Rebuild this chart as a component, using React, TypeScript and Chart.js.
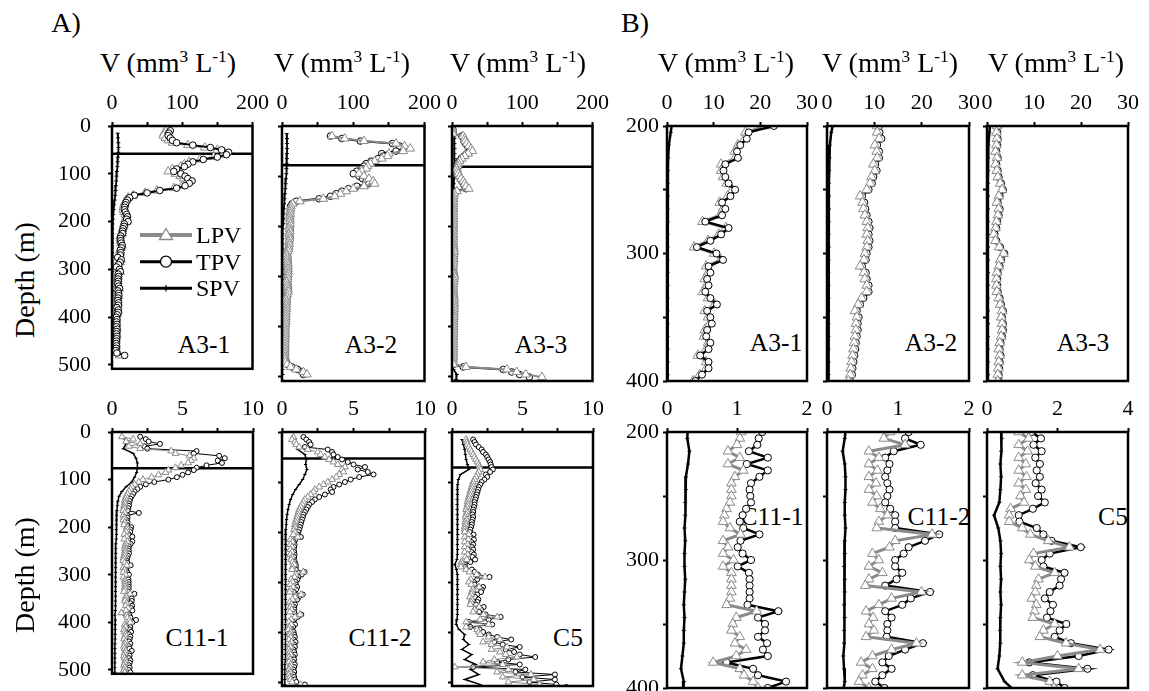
import React, { useEffect, useRef } from 'react';
import { Chart, registerables } from 'chart.js';

Chart.register(...registerables);

const FONT = "'Liberation Serif', 'Times New Roman', Times, serif";

// ---------------- DATA ----------------
// depth grid (m) used by LPV / TPV profiles
const DEPTHS = [5, 10, 15, 20, 25, 30, 35, 40, 45, 50, 55, 60, 65, 70, 75, 80, 85, 90, 95, 100,
  105, 110, 115, 120, 125, 130, 135, 140, 145, 150, 155, 160, 165, 170, 175, 180, 185, 190, 195, 200,
  205, 210, 215, 220, 225, 230, 235, 240, 245, 250, 255, 260, 265, 270, 275, 280, 285, 290, 295, 300,
  305, 310, 315, 320, 325, 330, 335, 340, 345, 350, 355, 360, 365, 370, 375, 380, 385, 390, 395, 400,
  405, 410, 415, 420, 425, 430, 435, 440, 445, 450, 455, 460, 465, 470, 475, 480, 485, 490, 495, 500,
  505, 510];
// depth grid (m) used by SPV profiles
const SPV_DEPTHS = [15, 25, 35, 45, 55, 65, 75, 85, 95, 105, 115, 125, 135, 145, 155, 165, 175, 185, 195, 205,
  215, 225, 235, 245, 255, 265, 275, 285, 295, 305, 315, 325, 335, 345, 355, 365, 375, 385, 395, 405,
  415, 425, 435, 445, 455, 465, 475, 485, 495, 505];

const STATIONS = ['A3-1', 'A3-2', 'A3-3', 'C11-1', 'C11-2', 'C5'];
const START_DEPTH = [10, 20, 5, 10, 10, 15];
const MIXED_LAYER = [58, 78, 81, 76, 53, 71];

const A31_TPV = [83, 81, 80, 83, 86, 92, 115, 140, 156, 166, 163, 150, 130, 115, 108, 103, 92, 88, 98, 104,
  108, 114, 110, 104, 92, 68, 50, 32, 25, 22, 20, 19, 18, 18, 19, 21, 22, 21,
  22.9, 17.5, 17.1, 15.7, 15.0, 15.2, 12.5, 12.1, 12.5, 13.2, 14.6, 13.6, 11.8, 12.5, 11.8, 8.2, 13.2, 11.6, 9.3, 6.4,
  10.6, 12.0, 8.9, 9.3, 8.6, 8.9, 8.2, 9.3, 10.7, 8.6, 9.3, 9.6, 8.6, 8.4, 9.3, 8.9, 7.1, 8.9, 8.9, 7.5, 6.1,
  7.0, 6.5, 7.0, 6.5, 7.2, 6.8, 6.5, 7.0, 6.5, 6.2, 6.0, 6.5, 6.0, 5.5, 7.0, 18];
const A31_LPV = [76, 74, 73, 76, 80, 86, 108, 132, 150, 160, 158, 145, 125, 110, 103, 98, 86, 80, 90, 97,
  102, 108, 105, 100, 88, 64, 47, 30, 23, 20, 18, 17, 16, 16, 17, 19, 20, 19,
  21.0, 16.8, 16.6, 15.2, 14.5, 14.6, 11.6, 11.6, 12.0, 12.8, 14.0, 13.0, 11.3, 12.0, 11.3, 7.6, 12.6, 11.1, 8.8, 5.8,
  10.1, 11.5, 8.4, 8.8, 8.1, 8.4, 7.7, 8.8, 10.2, 8.1, 8.8, 9.1, 8.1, 7.9, 8.8, 8.4, 6.6, 8.4, 8.4, 7.0, 5.6,
  6.5, 6.0, 6.5, 6.0, 6.7, 6.3, 6.0, 6.5, 6.0, 5.7, 5.5, 6.0, 5.5, 5.0, 6.0, 11];
const A31_SPV = [8.0, 8.5, 9.0, 9.2, 9.0, 8.5, 8.0, 7.5, 7.0, 6.5,
  6.0, 5.5, 5.0, 4.5, 3.8, 3.0, 2.4, 1.8, 1.2, 0.8,
  0.4, 0.25, 0.2, 0.15, 0.15, 0.12, 0.13, 0.12, 0.11, 0.12,
  0.12, 0.13, 0.12, 0.12, 0.11, 0.12, 0.12, 0.13, 0.12, 0.12,
  0.11, 0.12, 0.12, 0.13, 0.15, 0.2, 0.3];

const A32_TPV = [68, 84, 110, 155, 165, 172, 160, 140, 142, 135, 125, 118, 115, 112, 105, 100, 108, 113, 118, 122,
  105, 93, 84, 76, 68, 52, 20, 14, 12, 12, 11.5, 11.5, 11, 11, 11, 11.5,
  11.0, 11.1, 11.5, 10.6, 11.0, 11.0, 10.2, 10.5, 9.8, 9.5, 8.8, 7.4, 7.9, 8.1, 8.4, 8.8, 9.0, 8.8, 9.0, 8.8,
  8.4, 8.2, 7.4, 8.2, 8.4, 8.8, 8.8, 7.7, 7.0, 6.3, 6.7, 6.5, 6.5, 6.3, 6.1, 6.0, 5.8, 5.6, 5.4, 5.3, 4.9,
  5.0, 5.0, 4.8, 4.8, 4.6, 4.5, 4.5, 4.4, 4.4, 4.3, 4.3, 4.5, 5.0, 6.0, 8.0, 14, 22, 28, 30];
const A32_LPV = [70, 88, 115, 160, 172, 180, 170, 150, 148, 140, 130, 124, 120, 118, 112, 108, 115, 122, 128, 130,
  115, 100, 90, 82, 74, 58, 25, 15, 12.5, 12, 11.5, 11.5, 11, 11, 11, 11.5,
  10.6, 10.6, 11.0, 10.1, 10.5, 10.6, 9.8, 10.1, 9.4, 9.1, 8.4, 7.0, 7.5, 7.7, 8.0, 8.4, 8.6, 8.4, 8.6, 8.4,
  8.0, 7.8, 7.0, 7.8, 8.0, 8.4, 8.4, 7.3, 6.6, 5.9, 6.3, 6.1, 6.1, 5.9, 5.7, 5.6, 5.4, 5.2, 5.0, 4.9, 4.5,
  4.6, 4.6, 4.4, 4.4, 4.2, 4.1, 4.1, 4.0, 4.0, 3.9, 3.9, 4.1, 4.5, 5.5, 7.0, 12, 20, 30, 35];
const A32_SPV = [6.5, 7.0, 7.0, 7.1, 7.0, 6.8, 6.5, 6.2, 6.0, 5.5,
  5.0, 4.5, 4.0, 3.6, 3.0, 2.5, 2.1, 1.8, 1.5, 0.9,
  0.6, 0.5, 0.45, 0.4, 0.42, 0.4, 0.36, 0.35, 0.36, 0.32,
  0.3, 0.31, 0.3, 0.29, 0.3, 0.31, 0.3, 0.29, 0.3, 0.3,
  0.27, 0.26, 0.25, 0.26, 0.25, 0.25, 0.3, 0.5, 0.8];

const A33_TPV = [1.0, 1.5, 2.0, 14, 16, 17, 19, 22, 25, 26, 21, 17, 13, 10, 8, 7, 6, 7, 8, 10,
  12, 14, 16, 18, 20, 6, 3, 2.5, 2.4, 2.3, 2.3, 2.2, 2.2, 2.3, 2.2, 2.2, 2.3, 2.3, 2.3,
  2.4, 2.2, 2.3, 2.2, 2.0, 2.3, 2.0, 2.3, 2.5, 3.0, 3.4, 2.7, 2.3, 2.7, 2.5, 2.2, 2.0, 1.6, 2.0, 2.8,
  3.7, 3.0, 2.7, 2.3, 2.2, 2.2, 2.3, 2.7, 3.0, 3.4, 3.2, 3.4, 3.4, 3.2, 2.9, 2.7, 2.9, 2.7, 2.6, 2.5, 2.5,
  2.5, 2.5, 2.4, 2.4, 2.3, 2.3, 2.3, 2.2, 2.2, 2.2, 2.1, 2.1, 2.0, 2.0, 2.0, 16, 73, 85, 96, 110];
const A33_LPV = [0.5, 0.8, 1.0, 16, 18, 19, 21, 24, 27, 29, 23, 18, 14, 11, 9, 8, 7, 8, 9, 11,
  13, 16, 18, 20, 24, 7, 3.2, 2.5, 2.2, 2.1, 2.1, 2.0, 2.0, 2.1, 2.0, 2.0, 2.1, 2.1, 2.1,
  2.1, 2.0, 2.1, 2.0, 1.8, 2.1, 1.8, 2.1, 2.3, 2.8, 3.2, 2.5, 2.1, 2.5, 2.3, 2.0, 1.8, 1.4, 1.8, 2.6,
  3.5, 2.8, 2.5, 2.1, 2.0, 2.0, 2.1, 2.5, 2.8, 3.2, 3.0, 3.2, 3.2, 3.0, 2.7, 2.5, 2.7, 2.5, 2.4, 2.3, 2.3,
  2.3, 2.3, 2.2, 2.2, 2.1, 2.1, 2.1, 2.0, 2.0, 2.0, 1.9, 1.9, 1.8, 1.8, 1.8, 20, 78, 92, 105, 128];
const A33_SPV = [3.0, 3.5, 3.5, 3.6, 3.5, 3.5, 3.2, 3.0, 3.0, 2.8,
  2.5, 2.2, 2.0, 1.8, 1.5, 1.3, 1.1, 1.0, 0.8, 0.5,
  0.3, 0.25, 0.22, 0.2, 0.21, 0.2, 0.19, 0.2, 0.21, 0.2,
  0.2, 0.19, 0.2, 0.2, 0.21, 0.2, 0.2, 0.19, 0.2, 0.2,
  0.2, 0.21, 0.2, 0.2, 0.2, 0.2, 0.5, 2.0, 7.0, 6.0];

const C111_TPV = [2.0, 2.4, 2.6, 3.4, 2.3, 2.5, 6.0, 5.8, 7.6, 8.0, 7.5, 7.8, 6.7, 6.0, 5.8, 5.4, 5.0, 4.6, 4.0, 3.0,
  2.4, 2.0, 1.8, 1.6, 1.5, 1.4, 1.3, 1.25, 1.2, 1.2, 1.15, 1.1, 1.9, 1.1, 1.1, 1.05, 1.1, 1.05,
  1.36, 1.31, 1.29, 1.17, 1.44, 1.14, 1.44, 1.32, 1.20, 1.18, 1.19, 1.20, 1.13, 1.08, 1.04, 1.09, 1.32, 1.05, 1.01, 1.08,
  1.20, 1.01, 1.17, 1.18, 1.18, 1.18, 1.18, 1.15, 1.59, 1.30, 1.40, 1.40, 1.30, 1.43, 1.37, 1.44, 0.85, 1.23, 1.30, 1.70, 1.44,
  1.2, 1.3, 1.25, 1.35, 1.2, 1.3, 1.25, 1.2, 1.3, 1.2, 1.25, 1.4, 1.2, 1.25, 1.2, 1.3, 1.25, 1.2, 1.25, 1.2, 1.3];
const C111_LPV = [0.7, 1.5, 1.0, 2.0, 1.2, 2.0, 4.2, 4.5, 5.5, 5.8, 5.6, 5.4, 4.9, 4.5, 4.0, 3.8, 3.3, 2.8, 2.2, 1.9,
  1.6, 1.4, 1.3, 1.2, 1.1, 1.0, 0.95, 0.9, 0.9, 0.85, 0.85, 0.8, 0.9, 0.8, 0.85, 0.8, 0.9, 0.85,
  1.06, 1.04, 1.00, 0.87, 1.04, 0.87, 1.09, 0.97, 0.92, 0.92, 0.92, 0.90, 0.85, 0.82, 0.80, 0.90, 1.05, 0.80, 0.87, 0.80,
  0.95, 0.80, 0.92, 0.92, 0.92, 0.92, 0.90, 0.85, 1.28, 0.99, 0.94, 0.92, 1.04, 0.97, 1.13, 0.99, 0.66, 1.04, 1.10, 1.23, 1.30,
  0.9, 0.95, 0.85, 0.9, 0.95, 0.9, 0.85, 0.95, 0.9, 0.85, 0.9, 0.95, 0.9, 0.85, 0.9, 0.95, 0.9, 0.85, 0.9, 0.85, 0.9];
const C111_SPV = [0.9, 1.0, 0.8, 1.5, 1.7, 1.8, 1.8, 1.75, 1.6, 1.4,
  1.0, 0.7, 0.5, 0.42, 0.38, 0.35, 0.33, 0.31, 0.3, 0.29,
  0.32, 0.3, 0.27, 0.27, 0.26, 0.26, 0.25, 0.26, 0.25, 0.25,
  0.26, 0.25, 0.24, 0.25, 0.24, 0.24, 0.22, 0.2, 0.24, 0.23,
  0.22, 0.22, 0.22, 0.21, 0.21, 0.21, 0.2, 0.2, 0.2, 0.2];

const C112_TPV = [1.5, 1.7, 1.9, 2.0, 1.6, 3.2, 3.5, 3.6, 3.9, 4.2, 4.6, 5.0, 5.8, 5.3, 6.0, 6.4, 5.4, 4.8, 4.4, 4.0,
  3.6, 3.4, 3.5, 3.0, 2.6, 2.3, 2.1, 1.9, 1.8, 1.7, 1.6, 1.5, 1.45, 1.4, 1.35, 1.3, 1.25, 1.2,
  1.15, 1.10, 1.32, 0.94, 0.82, 0.88, 0.85, 0.82, 0.85, 0.88, 0.85, 0.82, 0.89, 0.96, 0.96, 0.96, 1.58, 1.38, 1.15, 1.08,
  0.96, 0.96, 1.06, 0.98, 0.82, 1.45, 1.18, 1.06, 0.82, 0.91, 0.85, 0.85, 0.84, 1.35, 1.10, 0.87, 0.78, 0.91, 0.78, 0.68, 0.81,
  0.85, 0.9, 0.8, 0.95, 0.85, 0.9, 0.8, 0.85, 0.9, 0.8, 0.85, 0.8, 0.9, 0.85, 0.8, 0.85, 0.8, 0.85, 0.9, 1.0, 1.6];
const C112_LPV = [0.8, 0.7, 0.9, 1.0, 1.2, 1.8, 2.5, 2.7, 3.0, 3.3, 3.6, 3.9, 4.4, 4.2, 4.3, 4.0, 3.8, 3.5, 3.2, 2.9,
  2.6, 2.3, 2.2, 2.0, 1.8, 1.6, 1.5, 1.4, 1.3, 1.2, 1.15, 1.1, 1.05, 1.0, 0.95, 0.9, 0.9, 0.85,
  0.89, 0.80, 1.10, 0.59, 0.73, 0.59, 0.71, 0.59, 0.69, 0.59, 0.70, 0.64, 0.75, 0.85, 0.73, 0.70, 1.48, 0.96, 0.88, 0.64,
  0.73, 0.59, 0.78, 0.59, 0.54, 1.33, 0.91, 0.73, 0.55, 0.65, 0.59, 0.66, 0.55, 1.26, 0.91, 0.64, 0.48, 0.64, 0.50, 0.45, 0.59,
  0.55, 0.6, 0.5, 0.65, 0.55, 0.6, 0.5, 0.55, 0.6, 0.5, 0.55, 0.5, 0.6, 0.55, 0.5, 0.55, 0.5, 0.55, 0.6, 0.7, 1.3];
const C112_SPV = [0.9, 1.0, 1.1, 1.6, 1.7, 1.65, 1.75, 1.6, 1.45, 1.2,
  0.95, 0.75, 0.6, 0.5, 0.42, 0.36, 0.32, 0.3, 0.27, 0.25,
  0.22, 0.25, 0.26, 0.26, 0.25, 0.25, 0.26, 0.25, 0.25, 0.24,
  0.25, 0.25, 0.24, 0.25, 0.24, 0.24, 0.23, 0.24, 0.25, 0.22,
  0.22, 0.22, 0.21, 0.21, 0.21, 0.2, 0.2, 0.2, 0.2, 0.2];

const C5_TPV = [1.5, 1.6, 1.7, 1.9, 2.1, 2.2, 2.4, 2.5, 2.6, 2.7, 2.75, 2.8, 2.9, 2.7, 2.4, 2.5, 2.3, 2.1, 2.0, 1.9,
  1.85, 1.8, 1.75, 1.7, 1.65, 1.6, 1.6, 1.55, 1.5, 1.5, 1.45, 1.5, 1.45, 1.4, 1.4, 1.35, 1.3,
  1.26, 1.53, 1.32, 1.55, 1.37, 1.50, 1.41, 1.50, 1.38, 1.55, 1.45, 1.64, 1.30, 0.90, 0.92, 1.41, 1.60, 1.83, 2.66, 1.78,
  1.55, 1.60, 2.20, 2.10, 2.06, 1.78, 1.64, 1.87, 1.80, 1.70, 2.25, 2.06, 1.92, 2.38, 3.45, 2.60, 1.20, 2.85, 1.30, 1.97, 2.20,
  2.6, 3.2, 4.2, 3.0, 3.6, 4.8, 3.8, 4.4, 4.8, 5.9, 4.0, 3.2, 4.8, 1.5, 5.2, 4.5, 7.3, 5.0, 7.3, 5.5, 7.4, 8.1];
const C5_LPV = [1.0, 1.05, 1.1, 1.2, 1.3, 1.4, 1.5, 1.6, 1.7, 1.8, 1.9, 1.95, 2.0, 1.9, 1.8, 1.7, 1.6, 1.5, 1.45, 1.4,
  1.35, 1.3, 1.25, 1.2, 1.15, 1.1, 1.1, 1.05, 1.0, 1.05, 1.0, 0.95, 1.0, 0.95, 0.95, 0.9, 0.9,
  0.90, 1.18, 0.90, 1.15, 0.90, 1.10, 0.90, 1.12, 0.90, 1.10, 0.95, 1.05, 0.67, 0.63, 0.63, 1.00, 1.23, 1.74, 2.34, 1.32,
  1.20, 1.37, 1.92, 1.46, 1.40, 1.37, 1.27, 1.40, 1.35, 1.30, 1.92, 1.60, 1.50, 2.24, 3.21, 2.00, 1.00, 2.60, 1.00, 1.78, 1.90,
  2.0, 2.6, 3.4, 2.2, 2.8, 3.9, 2.8, 3.4, 3.8, 4.6, 3.0, 2.2, 3.6, 0.2, 4.0, 3.2, 5.6, 3.6, 5.8, 4.0, 6.2, 7.0];
const C5_SPV = [0.7, 0.8, 0.9, 0.95, 1.0, 1.1, 1.2, 0.6, 0.45, 0.4,
  0.38, 0.37, 0.36, 0.36, 0.36, 0.37, 0.38, 0.38, 0.4, 0.42,
  0.4, 0.38, 0.4, 0.38, 0.35, 0.2, 0.32, 0.38, 0.4, 0.38,
  0.4, 0.38, 0.4, 0.38, 0.37, 0.38, 0.35, 0.3, 0.5, 0.9,
  0.8, 1.2, 0.7, 1.4, 0.9, 1.7, 1.3, 1.9, 0.9, 2.0];

const TPV = [A31_TPV, A32_TPV, A33_TPV, C111_TPV, C112_TPV, C5_TPV];
const LPV = [A31_LPV, A32_LPV, A33_LPV, C111_LPV, C112_LPV, C5_LPV];
const SPV = [A31_SPV, A32_SPV, A33_SPV, C111_SPV, C112_SPV, C5_SPV];

// axis ranges / tick values
const A_X_MAX = [200, 10];
const A_X_TICKS = [[0, 50, 100, 150, 200], [0, 2.5, 5, 7.5, 10]];
const A_X_LABEL_EVERY = [100, 5];
const B_X_MAX = [30, 30, 30, 2, 2, 4];
const B_X_TICKS = [[0, 10, 20, 30], [0, 10, 20, 30], [0, 10, 20, 30], [0, 1, 2], [0, 1, 2], [0, 2, 4]];
const B_X_LABEL_EVERY = [10, 10, 10, 1, 1, 2];
const A_DEPTH = [0, 508];
const B_DEPTH = [200, 400];
const A_DEPTH_TICKS = [0, 100, 200, 300, 400, 500];
const B_DEPTH_TICKS = [200, 250, 300, 350, 400];

// ---------------- LAYOUT / STYLE ----------------
const A_BOX_X = [[112, 253], [282, 425], [452, 593]];
const B_BOX_X = [[667, 807], [827, 969], [987, 1128]];
const A_BOX_Y = [[126, 381], [432, 686]];
const B_BOX_Y = [[126, 381], [432, 688]];

const GRAY = '#8a8a8a';

const STYLES: Record<string, any> = {
  A0: { tpvW: 2, lpvW: 2, tri: 5, circ: 3.3, spvW: 1.8, spvR: 2 },
  A1: { tpvW: 1, lpvW: 1, tri: 3.9, circ: 2.5, spvW: 1.5, spvR: 1.6 },
  B0: { tpvW: 2.5, lpvW: 2.5, tri: 5.6, circ: 3.5, spvW: 2.5, spvR: 2 },
  B1: { tpvW: 2.5, lpvW: 3, tri: 5.6, circ: 3.6, spvW: 2.5, spvR: 2 },
};

function profile(vals: number[], start: number, grid: number[]) {
  const i0 = grid.indexOf(start);
  return vals
    .map((v, i) => ({ x: v, y: grid[i0 + i] }))
    .filter((p) => p.y !== undefined);
}

const boxPlugin = {
  id: 'plotBox',
  afterDatasetsDraw(chart: any) {
    const { ctx, chartArea: a } = chart;
    ctx.save();
    ctx.strokeStyle = '#000';
    ctx.lineWidth = 2.5;
    ctx.strokeRect(a.left, a.top, a.right - a.left, a.bottom - a.top);
    ctx.restore();
  },
};

function labelEvery(every: number) {
  return (v: any) => {
    const q = Number(v) / every;
    return Math.abs(q - Math.round(q)) < 1e-6 ? String(Number(v)) : '';
  };
}

type PanelDef = { group: 'A' | 'B'; s: number; row: number; col: number };

function Panel({ def }: { def: PanelDef }) {
  const ref = useRef<HTMLCanvasElement | null>(null);
  const { group, s, row, col } = def;
  const bx = group === 'A' ? A_BOX_X[col] : B_BOX_X[col];
  const by = group === 'A' ? A_BOX_Y[row] : B_BOX_Y[row];
  const LP = col === 0 ? 64 : 14;
  const TP = 40;
  const RP = 22;
  const BP = 18;
  const left = bx[0] - LP;
  const top = by[0] - TP;
  const width = bx[1] - bx[0] + LP + RP;
  const height = by[1] - by[0] + TP + BP;

  useEffect(() => {
    const st = STYLES[group + row];
    const xMax = group === 'A' ? A_X_MAX[row] : B_X_MAX[s];
    const xTicks = group === 'A' ? A_X_TICKS[row] : B_X_TICKS[s];
    const xEvery = group === 'A' ? A_X_LABEL_EVERY[row] : B_X_LABEL_EVERY[s];
    const yr = group === 'A' ? A_DEPTH : B_DEPTH;
    const yTicks = group === 'A' ? A_DEPTH_TICKS : B_DEPTH_TICKS;
    const tpvTop = s === 0;
    const tickFont = { family: FONT, size: 22 };
    const gridOpts = {
      display: true,
      drawOnChartArea: false,
      drawTicks: true,
      tickLength: 4,
      tickWidth: 2,
      tickColor: '#000',
    };

    const datasets: any[] = [
      {
        label: 'LPV',
        data: profile(LPV[s], START_DEPTH[s], DEPTHS),
        showLine: true,
        borderColor: GRAY,
        borderWidth: st.lpvW,
        pointStyle: 'triangle',
        pointRadius: st.tri,
        pointBorderWidth: 1,
        pointBorderColor: GRAY,
        pointBackgroundColor: '#fff',
        order: tpvTop ? 2 : 1,
      },
      {
        label: 'TPV',
        data: profile(TPV[s], START_DEPTH[s], DEPTHS),
        showLine: true,
        borderColor: '#000',
        borderWidth: st.tpvW,
        pointStyle: 'circle',
        pointRadius: st.circ,
        pointBorderWidth: 1,
        pointBorderColor: '#000',
        pointBackgroundColor: '#fff',
        order: tpvTop ? 1 : 2,
      },
      {
        label: 'SPV',
        data: profile(SPV[s], 15, SPV_DEPTHS),
        showLine: true,
        borderColor: '#000',
        borderWidth: st.spvW,
        pointStyle: 'line',
        pointRadius: st.spvR,
        pointBorderWidth: 1,
        pointBorderColor: '#000',
        order: 3,
      },
    ];
    if (group === 'A') {
      datasets.push({
        label: 'MLD',
        data: [
          { x: 0, y: MIXED_LAYER[s] },
          { x: xMax, y: MIXED_LAYER[s] },
        ],
        showLine: true,
        borderColor: '#000',
        borderWidth: 2.5,
        pointRadius: 0,
        order: 4,
      });
    }

    const chart = new Chart(ref.current as HTMLCanvasElement, {
      type: 'scatter',
      data: { datasets },
      options: {
        responsive: false,
        maintainAspectRatio: false,
        animation: false,
        events: [],
        layout: { padding: { left: 0, top: 0, right: RP, bottom: BP } },
        elements: { line: { tension: 0 } },
        plugins: { legend: { display: false }, tooltip: { enabled: false } },
        scales: {
          x: {
            type: 'linear',
            position: 'top',
            min: 0,
            max: xMax,
            ticks: {
              autoSkip: false,
              maxRotation: 0,
              minRotation: 0,
              padding: 6,
              color: '#000',
              font: tickFont,
              callback: labelEvery(xEvery),
            },
            afterBuildTicks: (sc: any) => {
              sc.ticks = xTicks.map((v) => ({ value: v }));
            },
            grid: gridOpts,
            border: { display: false },
            afterFit: (sc: any) => {
              sc.height = TP;
            },
          },
          y: {
            type: 'linear',
            position: 'left',
            reverse: true,
            min: yr[0],
            max: yr[1],
            ticks: {
              autoSkip: false,
              display: col === 0,
              padding: group === 'A' ? 17 : 4,
              color: '#000',
              font: tickFont,
              callback: labelEvery(100),
            },
            afterBuildTicks: (sc: any) => {
              sc.ticks = yTicks.map((v) => ({ value: v }));
            },
            grid: gridOpts,
            border: { display: false },
            afterFit: (sc: any) => {
              sc.width = LP;
            },
          },
        },
      } as any,
      plugins: [boxPlugin],
    });
    return () => chart.destroy();
  }, []);

  return (
    <canvas
      ref={ref}
      width={width}
      height={height}
      style={{ position: 'absolute', left, top, width, height }}
    />
  );
}

const PANELS: PanelDef[] = [];
for (const group of ['A', 'B'] as const) {
  for (let s = 0; s < 6; s++) {
    PANELS.push({ group, s, row: s < 3 ? 0 : 1, col: s % 3 });
  }
}

const NAME_POS_A = [[204, 345], [371, 345], [541, 345], [197, 638], [380, 638], [568, 638]];
const NAME_POS_B = [[776, 343], [931, 343], [1083, 343], [772, 517], [939, 517], [1113, 517]];
const TITLE_X = [168, 342, 518, 726, 890, 1056];

function Text({ x, y, size, children, rotate }: any) {
  return (
    <div
      style={{
        position: 'absolute',
        left: x,
        top: y,
        transform: `translate(-50%, -50%)${rotate ? ` rotate(${rotate}deg)` : ''}`,
        fontSize: size,
        lineHeight: 1,
        whiteSpace: 'nowrap',
        fontFamily: FONT,
        color: '#000',
      }}
    >
      {children}
    </div>
  );
}

function Sup({ children }: any) {
  return (
    <span style={{ fontSize: '0.62em', position: 'relative', top: '-0.55em' }}>{children}</span>
  );
}

function Legend() {
  return (
    <svg
      width={130}
      height={90}
      style={{ position: 'absolute', left: 130, top: 220 }}
      viewBox="0 0 130 90"
    >
      <line x1={10} y1={15} x2={62} y2={15} stroke={GRAY} strokeWidth={4} />
      <polygon points="36,8.5 42.5,19.5 29.5,19.5" fill="#fff" stroke={GRAY} strokeWidth={1.3} />
      <line x1={10} y1={41.7} x2={62} y2={41.7} stroke="#000" strokeWidth={3} />
      <circle cx={36} cy={41.7} r={5.5} fill="#fff" stroke="#000" strokeWidth={1.3} />
      <line x1={10} y1={68.3} x2={62} y2={68.3} stroke="#000" strokeWidth={3} />
      <line x1={36} y1={65} x2={36} y2={71.6} stroke="#000" strokeWidth={1.2} />
      <text x={66} y={15} dominantBaseline="central" fontFamily={FONT} fontSize={24}>LPV</text>
      <text x={66} y={41.7} dominantBaseline="central" fontFamily={FONT} fontSize={24}>TPV</text>
      <text x={66} y={68.3} dominantBaseline="central" fontFamily={FONT} fontSize={24}>SPV</text>
    </svg>
  );
}

export default function App() {
  return (
    <div
      style={{
        position: 'absolute',
        left: 0,
        top: 0,
        width: 1149,
        height: 691,
        overflow: 'hidden',
        background: '#fff',
      }}
    >
      {STATIONS.map((n, i) => (
        <Text key={'na' + i} x={NAME_POS_A[i][0]} y={NAME_POS_A[i][1]} size={25.5}>{n}</Text>
      ))}
      {STATIONS.map((n, i) => (
        <Text key={'nb' + i} x={NAME_POS_B[i][0]} y={NAME_POS_B[i][1]} size={25.5}>{n}</Text>
      ))}
      {PANELS.map((p) => (
        <Panel key={p.group + p.s} def={p} />
      ))}
      <Text x={66} y={23} size={28}>A)</Text>
      <Text x={635} y={23} size={28}>B)</Text>
      {TITLE_X.map((x, i) => (
        <Text key={'t' + i} x={x} y={63} size={28}>
          V (mm<Sup>3</Sup> L<Sup>-1</Sup>)
        </Text>
      ))}
      <Text x={25} y={280} size={28} rotate={-90}>Depth (m)</Text>
      <Text x={25} y={575} size={28} rotate={-90}>Depth (m)</Text>
      <Legend />
    </div>
  );
}
